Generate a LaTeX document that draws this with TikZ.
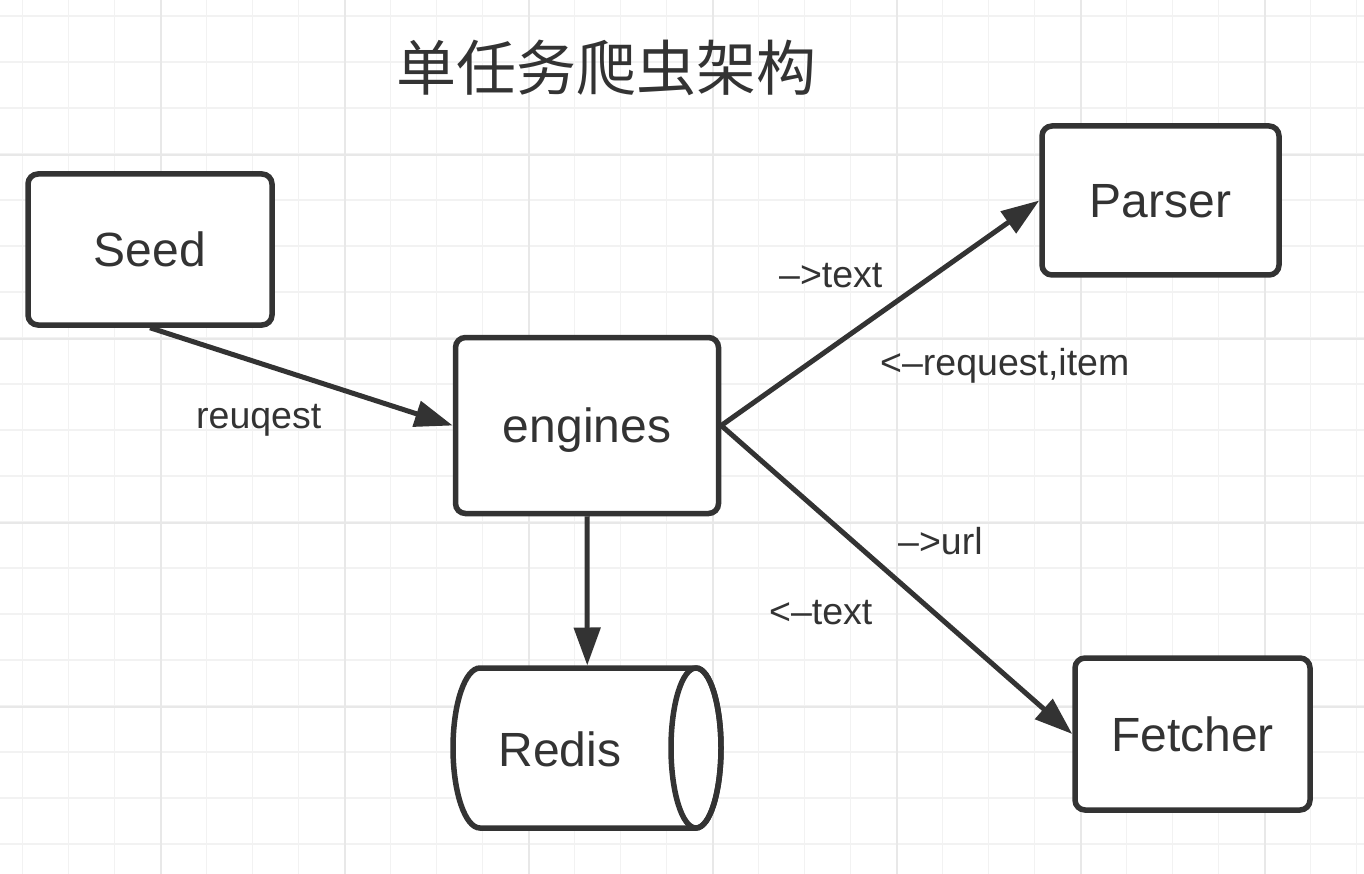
\documentclass[tikz,border=0pt]{standalone}
\usepackage{fontspec}
\setmainfont{Liberation Sans}
\newfontfamily\cjk{Noto Sans CJK SC}
\usetikzlibrary{arrows.meta}
\definecolor{ink}{HTML}{333333}
\definecolor{gridminor}{HTML}{F2F2F2}
\definecolor{gridmajor}{HTML}{E8E8E8}
\begin{document}
\begin{tikzpicture}[x=1pt,y=-1pt,
  box/.style={draw=ink, line width=5.5pt, rounded corners=10pt, fill=white, text=ink,
    font=\fontsize{48}{48}\selectfont, text height=34pt, text depth=0pt, inner sep=0pt},
  flow/.style={draw=ink, line width=5pt, -{Triangle[length=38pt,width=26pt]}},
  lbl/.style={text=ink, font=\fontsize{37.5}{37.5}\selectfont, inner sep=0pt, anchor=base west},
  gminor/.style={draw=gridminor, line width=1.5pt},
  gmajor/.style={draw=gridmajor, line width=2pt},
]
\useasboundingbox (0,0) rectangle (1364,874);
\fill[white] (0,0) rectangle (1364,874);
% grid
\foreach \i in {0,...,29} \draw[gminor] ({22.7+46*\i},0) -- ({22.7+46*\i},874);
\foreach \i in {0,...,18} \draw[gminor] (0,{16+46*\i}) -- (1364,{16+46*\i});
\foreach \i in {0,...,6} \draw[gmajor] ({161+184*\i},0) -- ({161+184*\i},874);
\foreach \i in {0,...,3} \draw[gmajor] (0,{154.7+184*\i}) -- (1364,{154.7+184*\i});

% title
\node[text=ink, font=\cjk\fontsize{60}{60}\selectfont, inner sep=0pt] (title) at (606.5,68) {单任务爬虫架构};

% boxes
\node[box, minimum width=244pt, minimum height=151pt] (seed) at (150,249.5) {Seed};
\node[box, minimum width=263pt, minimum height=176pt] (engines) at (587,425.5) {engines};
\node[box, minimum width=237pt, minimum height=149pt] (parser) at (1160.5,200.5) {Parser};
\node[box, minimum width=235pt, minimum height=152pt] (fetcher) at (1192.5,734) {Fetcher};

% redis cylinder
\node[minimum width=272.5pt, minimum height=165pt, inner sep=0pt, outer sep=0pt] (redis) at (587.25,748) {};
\draw[ink, line width=5.5pt, fill=white] (480,668) arc[start angle=90, end angle=270, x radius=27pt, y radius=80pt]
  -- (696,828) arc[start angle=270, end angle=450, x radius=25pt, y radius=80pt] -- cycle;
\draw[ink, line width=5.5pt] (696,748) ellipse[x radius=25pt, y radius=80pt];
\node[text=ink, font=\fontsize{48}{48}\selectfont, text height=34pt, text depth=0pt, inner sep=0pt] (redislabel) at (560,749) {Redis};

% connectors
\draw[flow] (seed.south) -- (engines.west);
\draw[flow] (engines.south) -- (redis.north);
\draw[flow] (engines.east) -- (parser.west);
\draw[flow] (engines.east) -- (fetcher.west);

% labels
\node[lbl] (l1) at (196,428) {reuqest};
\node[lbl] (l2) at (779,288) {–>text};
\node[lbl] (l3) at (880,375) {<–request,item};
\node[lbl] (l4) at (898,554) {–>url};
\node[lbl] (l5) at (769,624) {<–text};
\end{tikzpicture}
\end{document}
